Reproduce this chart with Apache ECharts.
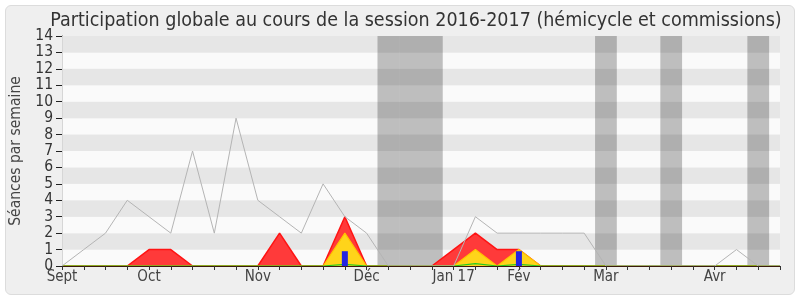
<!DOCTYPE html>
<html><head><meta charset="utf-8">
<script src="https://cdn.jsdelivr.net/npm/echarts@6/dist/echarts.min.js"></script>
<style>
html,body{margin:0;padding:0;background:#fff;}
#frame{position:absolute;left:5px;top:5px;width:788px;height:288px;background:#efefef;border:1px solid #dcdcdc;border-radius:6px;}
#chart{position:absolute;left:0;top:0;width:800px;height:300px;}
</style></head>
<body>
<div id="frame"></div>
<div id="chart"></div>
<script>
// Week labels (one entry per week, month label where a month starts)
const weekLabels = ['Sept','','','','Oct','','','','','Nov','','','','','Déc','','','','Jan 17','','','Fév','','','','Mar','','','','','Avr','','',''];
// Total séances per week (gray line)
const seances   = [0,1,2,4,3,2,7,2,9,4,3,2,5,3,2,0,0,0,0,3,2,2,2,2,2,0,0,0,0,0,0,1,0,0];
// Présences (red area)
const presences = [0,0,0,0,1,1,0,0,0,0,2,0,0,3,0,0,0,0,1,2,1,1,0,0,0,0,0,0,0,0,0,0,0,0];
// Interventions (yellow area)
const interventions = [0,0,0,0,0,0,0,0,0,0,0,0,0,2,0,0,0,0,0,1,0,1,0,0,0,0,0,0,0,0,0,0,0,0];
// Small green series
const propositions = [0,0,0,0,0,0,0,0,0,0,0,0,0,0.1,0,0,0,0,0,0.15,0,0.1,0,0,0,0,0,0,0,0,0,0,0,0];
// Questions (blue bars)
const questions = [0,0,0,0,0,0,0,0,0,0,0,0,0,0.9,0,0,0,0,0,0,0,0.9,0,0,0,0,0,0,0,0,0,0,0,0];
// Vacation weeks (gray bands)
const vacances = [15,16,17,25,28,32];
const yTicks = [0,1,2,3,4,5,6,7,8,9,10,11,12,13,14];

const pairs = arr => arr.map((v,i)=>[i,v]);
const FONT = 'DejaVu Sans Condensed';
const chart = echarts.init(document.getElementById('chart'), null, {renderer:'canvas'});
chart.setOption({
  animation:false,
  backgroundColor:'transparent',
  textStyle:{fontFamily:FONT},
  title:{
    text:'Participation globale au cours de la session 2016-2017 (hémicycle et commissions)',
    left:411, textAlign:'center', top:6,
    textStyle:{fontFamily:FONT,fontSize:19.5,fontWeight:'normal',color:'#333'}
  },
  grid:{left:62,right:20,top:36,bottom:34},
  xAxis:[{
    type:'value',min:0,max:weekLabels.length-1,interval:1,z:10,
    axisLine:{show:true,lineStyle:{color:'#3a1a0c',width:1}},
    axisTick:{show:true,length:4,lineStyle:{color:'#333'}},
    splitLine:{show:false},
    axisLabel:{formatter:v=>weekLabels[v]||'',fontFamily:FONT,fontSize:15,color:'#444',margin:4,showMinLabel:true,showMaxLabel:true}
  },{
    type:'value',position:'top',min:0,max:weekLabels.length-1,interval:1,
    axisLine:{show:false},
    axisTick:{show:true,inside:true,length:2,lineStyle:{color:'#333'}},
    splitLine:{show:false},axisLabel:{show:false}
  }],
  yAxis:[{
    type:'value',min:yTicks[0],max:yTicks[yTicks.length-1],interval:1,
    name:'Séances par semaine',nameLocation:'middle',nameGap:35,nameRotate:90,
    nameTextStyle:{fontFamily:FONT,fontSize:15.5,color:'#444'},
    axisLine:{show:true,lineStyle:{color:'#222'}},
    axisTick:{show:true,length:6,lineStyle:{color:'#222'}},
    axisLabel:{fontFamily:FONT,fontSize:15.5,color:'#333',margin:9},
    splitLine:{show:false},
    splitArea:{show:true,areaStyle:{color:['#fafafa','#e6e6e6']}}
  },{
    type:'value',position:'right',min:0,max:14,interval:1,
    axisLine:{show:true,lineStyle:{color:'#d6d6d6'}},
    axisTick:{show:false},axisLabel:{show:false},splitLine:{show:false}
  }],
  series:[
    {type:'line',data:[],z:1,silent:true,
     markArea:{silent:true,itemStyle:{color:'rgba(0,0,0,0.24)'},
       data:vacances.map(w=>[{xAxis:w-0.5},{xAxis:w+0.5}])}},
    {type:'line',data:pairs(presences),symbol:'none',z:3,
     lineStyle:{color:'#ff1414',width:1.5},areaStyle:{color:'#ff3a3a',opacity:1}},
    {type:'line',data:pairs(interventions),symbol:'none',z:4,
     lineStyle:{color:'#ffc400',width:1.2},areaStyle:{color:'#ffd41a',opacity:1}},
    {type:'line',data:pairs(propositions),symbol:'none',z:5,
     lineStyle:{color:'#22cc22',width:1.2}},
    {type:'bar',data:pairs(questions),barWidth:6,z:6,
     itemStyle:{color:'#2424e0'}},
    {type:'line',data:pairs(seances),symbol:'none',z:7,
     lineStyle:{color:'#b4b4b4',width:1}}
  ]
});
</script>
</body></html>
